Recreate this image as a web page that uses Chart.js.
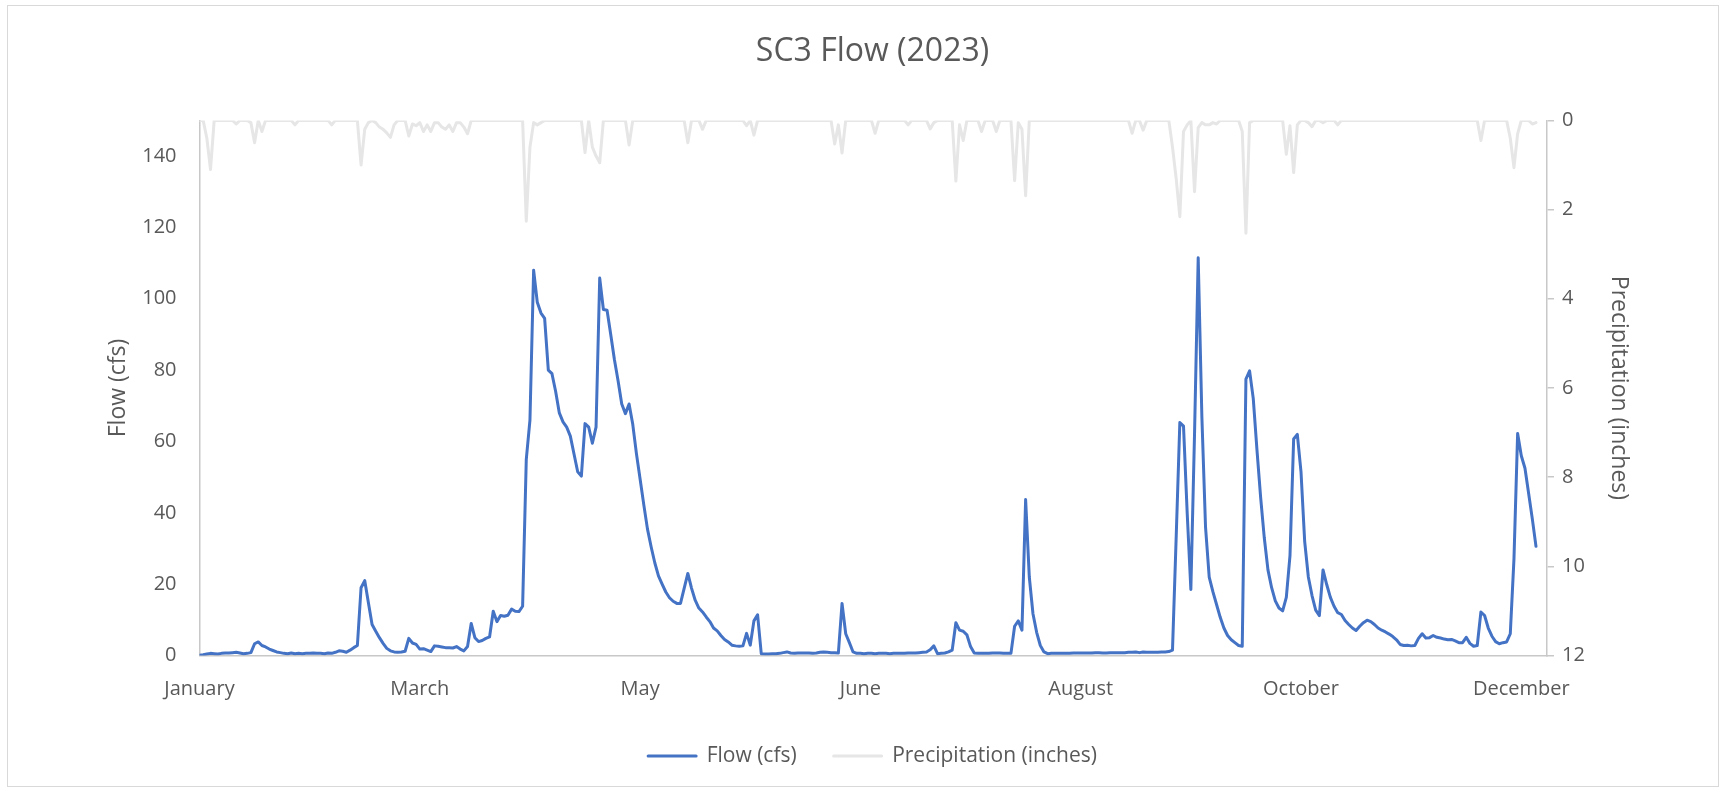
<!DOCTYPE html>
<html>
<head>
<meta charset="utf-8">
<script src="https://cdn.jsdelivr.net/npm/chart.js@4.4.0/dist/chart.umd.min.js"></script>
<style>
  html, body { margin: 0; padding: 0; background: #fff; }
  #wrap { position: relative; width: 1722px; height: 788px; }
</style>
</head>
<body>
<div id="wrap"><canvas id="myChart" width="1722" height="788"></canvas></div>
<script>
// month names shown every 60 days on the date axis
var monthTicks = ['January', 'March', 'May', 'June', 'August', 'October', 'December'];

// daily flow, cfs (day 0 = Jan 1 2023)
var flow = [
  0.1, 0.2, 0.4, 0.6, 0.5, 0.4, 0.6, 0.7, 0.7, 0.8,
  0.9, 0.7, 0.5, 0.6, 0.8, 3.3, 3.8, 2.8, 2.4, 1.8,
  1.4, 1.0, 0.8, 0.6, 0.5, 0.7, 0.5, 0.6, 0.5, 0.6,
  0.6, 0.7, 0.6, 0.6, 0.5, 0.7, 0.6, 0.9, 1.3, 1.2,
  0.9, 1.5, 2.2, 2.8, 19, 21, 14.8, 8.7, 6.8, 5.0,
  3.4, 2.0, 1.3, 1.0, 0.9, 1.0, 1.2, 4.8, 3.5, 3.1,
  1.8, 1.9, 1.5, 1.1, 2.7, 2.6, 2.4, 2.2, 2.2, 2.1,
  2.5, 1.8, 1.3, 2.5, 9.0, 5.0, 3.9, 4.2, 4.8, 5.2,
  12.4, 9.5, 11.2, 11.0, 11.3, 13.0, 12.4, 12.3, 13.8, 55,
  66, 108, 99, 96, 94.5, 80, 79, 74, 68, 65.5,
  64, 61.5, 56.5, 51.5, 50.3, 65, 64, 59.5, 64, 105.8,
  97, 96.8, 90, 83, 77, 70.5, 67.8, 70.5, 64.8, 56.6,
  49.5, 42.3, 35.5, 30.5, 26, 22.3, 20, 17.8, 16.2, 15.2,
  14.6, 14.6, 18.8, 23, 18.9, 15.5, 13.3, 12.2, 10.8, 9.5,
  7.7, 6.9, 5.6, 4.5, 3.8, 2.9, 2.7, 2.6, 2.7, 6.2,
  2.9, 9.7, 11.4, 0.5, 0.4, 0.4, 0.5, 0.5, 0.6, 0.8,
  1.0, 0.7, 0.6, 0.7, 0.7, 0.7, 0.7, 0.6, 0.7, 0.9,
  1.0, 0.9, 0.8, 0.8, 0.7, 14.6, 6.1, 3.6, 1.0, 0.6,
  0.6, 0.5, 0.6, 0.6, 0.5, 0.6, 0.6, 0.6, 0.5, 0.6,
  0.6, 0.6, 0.6, 0.7, 0.7, 0.7, 0.8, 0.9, 1.0, 1.6,
  2.7, 0.5, 0.6, 0.7, 1.0, 1.5, 9.2, 7.1, 6.8, 5.8,
  2.5, 0.7, 0.6, 0.6, 0.6, 0.6, 0.7, 0.7, 0.7, 0.6,
  0.6, 0.6, 8.2, 9.7, 7.1, 43.7, 22, 11.7, 6.5, 2.8,
  1.0, 0.5, 0.6, 0.6, 0.6, 0.6, 0.6, 0.6, 0.7, 0.7,
  0.7, 0.7, 0.7, 0.7, 0.8, 0.8, 0.7, 0.7, 0.8, 0.8,
  0.8, 0.8, 0.8, 0.9, 0.9, 1.0, 0.8, 1.0, 0.9, 0.9,
  0.9, 0.9, 1.0, 1.0, 1.1, 1.5, 33, 65.3, 64.3, 40,
  18.5, 62, 111.5, 67, 36, 22, 17.9, 14.3, 10.7, 7.7,
  5.6, 4.4, 3.6, 2.8, 2.6, 77.5, 79.8, 72, 57.7, 44.4,
  33, 24, 19, 15.3, 13.3, 12.5, 16.3, 28, 60.7, 62,
  51.5, 32, 22, 16.8, 12.7, 11.2, 24, 19.9, 16.3, 13.8,
  12, 11.5, 9.8, 8.7, 7.7, 7.0, 8.2, 9.2, 9.9, 9.5,
  8.7, 7.7, 7.1, 6.6, 6.0, 5.3, 4.4, 3.1, 2.8, 2.9,
  2.7, 2.8, 4.8, 6.1, 4.9, 5.0, 5.6, 5.1, 4.9, 4.6,
  4.4, 4.5, 4.1, 3.6, 3.6, 5.1, 3.4, 2.6, 2.8, 12.2,
  11.2, 7.7, 5.4, 3.9, 3.3, 3.6, 3.8, 6.1, 27, 62.2,
  56, 52.5, 45.4, 38.3, 30.6
];

// daily precipitation, inches
var precip = [
  0, 0, 0.4, 1.1, 0, 0, 0, 0, 0, 0,
  0.08, 0, 0, 0, 0.05, 0.5, 0, 0.25, 0, 0,
  0, 0, 0, 0, 0, 0, 0.1, 0, 0, 0,
  0, 0, 0, 0, 0, 0, 0.1, 0, 0, 0,
  0, 0, 0, 0, 1.0, 0.2, 0.05, 0, 0.05, 0.15,
  0.2, 0.28, 0.38, 0.1, 0, 0, 0, 0.35, 0.08, 0.12,
  0.05, 0.25, 0.1, 0.25, 0.05, 0.05, 0.15, 0.2, 0.1, 0.25,
  0.05, 0.05, 0.15, 0.3, 0, 0, 0, 0, 0, 0,
  0, 0, 0, 0, 0, 0, 0, 0, 0, 2.26,
  0.6, 0.05, 0.1, 0.05, 0, 0, 0, 0, 0, 0,
  0, 0, 0, 0, 0, 0.72, 0, 0.6, 0.8, 0.95,
  0, 0, 0, 0, 0, 0, 0, 0.55, 0, 0,
  0, 0, 0, 0, 0, 0, 0, 0, 0, 0,
  0, 0, 0, 0.5, 0, 0, 0, 0.2, 0, 0,
  0, 0, 0, 0, 0, 0, 0, 0, 0, 0.12,
  0, 0.33, 0, 0, 0, 0, 0, 0, 0, 0,
  0, 0, 0, 0, 0, 0, 0, 0, 0, 0,
  0, 0, 0, 0.53, 0.1, 0.73, 0, 0, 0, 0,
  0, 0, 0, 0, 0.29, 0, 0, 0, 0, 0,
  0, 0, 0, 0.1, 0, 0, 0, 0, 0, 0.19,
  0.05, 0, 0, 0, 0, 0, 1.36, 0.1, 0.45, 0,
  0, 0, 0, 0.25, 0, 0, 0, 0.25, 0, 0,
  0, 0, 1.35, 0.05, 0.2, 1.69, 0, 0, 0, 0,
  0, 0, 0, 0, 0, 0, 0, 0, 0, 0,
  0, 0, 0, 0, 0, 0, 0, 0, 0, 0,
  0, 0, 0, 0, 0.29, 0, 0, 0.22, 0, 0,
  0, 0, 0, 0, 0, 0.6, 1.3, 2.16, 0.25, 0.1,
  0, 1.6, 0.16, 0.05, 0.1, 0.1, 0.05, 0.08, 0, 0,
  0, 0, 0, 0, 0.25, 2.53, 0.05, 0, 0, 0,
  0, 0, 0, 0, 0, 0, 0.76, 0.12, 1.17, 0.1,
  0, 0, 0.05, 0.14, 0, 0, 0.05, 0, 0, 0,
  0.1, 0, 0, 0, 0, 0, 0, 0, 0, 0,
  0, 0, 0, 0, 0, 0, 0, 0, 0, 0,
  0, 0, 0, 0, 0, 0, 0, 0, 0, 0,
  0, 0, 0, 0, 0, 0, 0, 0, 0, 0.45,
  0, 0, 0, 0, 0, 0, 0, 0.4, 1.06, 0.3,
  0, 0, 0, 0.08, 0.05
];

var axisGray = '#C8C8C8';
var textGray = '#595959';

Chart.defaults.font.family = '"Open Sans", sans-serif';
Chart.defaults.color = textGray;

// white page plus the thin frame round the chart
var frame = {
  id: 'frame',
  beforeDraw: function (chart) {
    var c = chart.ctx;
    c.save();
    c.fillStyle = '#fff';
    c.fillRect(0, 0, chart.width, chart.height);
    c.strokeStyle = '#D9D9D9';
    c.lineWidth = 1;
    c.strokeRect(7.5, 5.5, 1711, 781);
    c.restore();
  }
};

var ctx = document.getElementById('myChart').getContext('2d');
var flowChart = new Chart(ctx, {
  type: 'line',
  data: {
    datasets: [
      {
        label: 'Flow (cfs)',
        data: flow.map(function (v, i) { return { x: i, y: v }; }),
        borderColor: '#4472C4',
        backgroundColor: '#4472C4',
        borderWidth: 3,
        borderCapStyle: 'round',
        borderJoinStyle: 'round',
        pointRadius: 0,
        tension: 0,
        yAxisID: 'y'
      },
      {
        label: 'Precipitation (inches)',
        data: precip.map(function (v, i) { return { x: i, y: v }; }),
        borderColor: '#E7E6E6',
        backgroundColor: '#E7E6E6',
        borderWidth: 3,
        borderCapStyle: 'round',
        borderJoinStyle: 'round',
        pointRadius: 0,
        tension: 0,
        yAxisID: 'y1'
      }
    ]
  },
  options: {
    responsive: false,
    animation: false,
    layout: { padding: { top: 0, left: 23, right: 0, bottom: 11.5 } },
    plugins: {
      title: {
        display: true,
        text: 'SC3 Flow (2023)',
        color: textGray,
        font: { size: 32, weight: 'normal' },
        padding: { top: 33, bottom: 49 }
      },
      legend: {
        position: 'bottom',
        labels: { boxWidth: 48, boxHeight: 0, padding: 37, color: textGray, font: { size: 21 } }
      },
      tooltip: { enabled: false }
    },
    scales: {
      x: {
        type: 'linear',
        min: 0,
        max: 367,
        grid: { display: false },
        border: { display: true, color: axisGray, width: 1.5 },
        ticks: {
          stepSize: 60,
          includeBounds: false,
          autoSkip: false,
          maxRotation: 0,
          padding: 14,
          font: { size: 20 },
          callback: function (v) { return monthTicks[v / 60]; }
        },
        afterFit: function (s) { s.height = 53; }
      },
      y: {
        position: 'left',
        min: 0,
        max: 150,
        grid: { display: false },
        border: { display: true, color: axisGray, width: 1.5 },
        ticks: { stepSize: 20, includeBounds: false, padding: 15, font: { size: 20 } },
        title: { display: true, text: 'Flow (cfs)', font: { size: 23 }, padding: { top: 82 } },
        afterFit: function (s) { s.width = 176.5; }
      },
      y1: {
        position: 'right',
        min: 0,
        max: 12,
        reverse: true,
        grid: { display: true, drawOnChartArea: false, drawTicks: true, tickLength: 7, color: axisGray, lineWidth: 1.5 },
        border: { display: true, color: axisGray, width: 1.5 },
        ticks: { stepSize: 2, padding: 8, font: { size: 20 } },
        title: { display: true, text: 'Precipitation (inches)', font: { size: 23 }, padding: { top: 90 } },
        afterFit: function (s) { s.width = 175; }
      }
    }
  },
  plugins: [frame]
});
</script>
</body>
</html>
